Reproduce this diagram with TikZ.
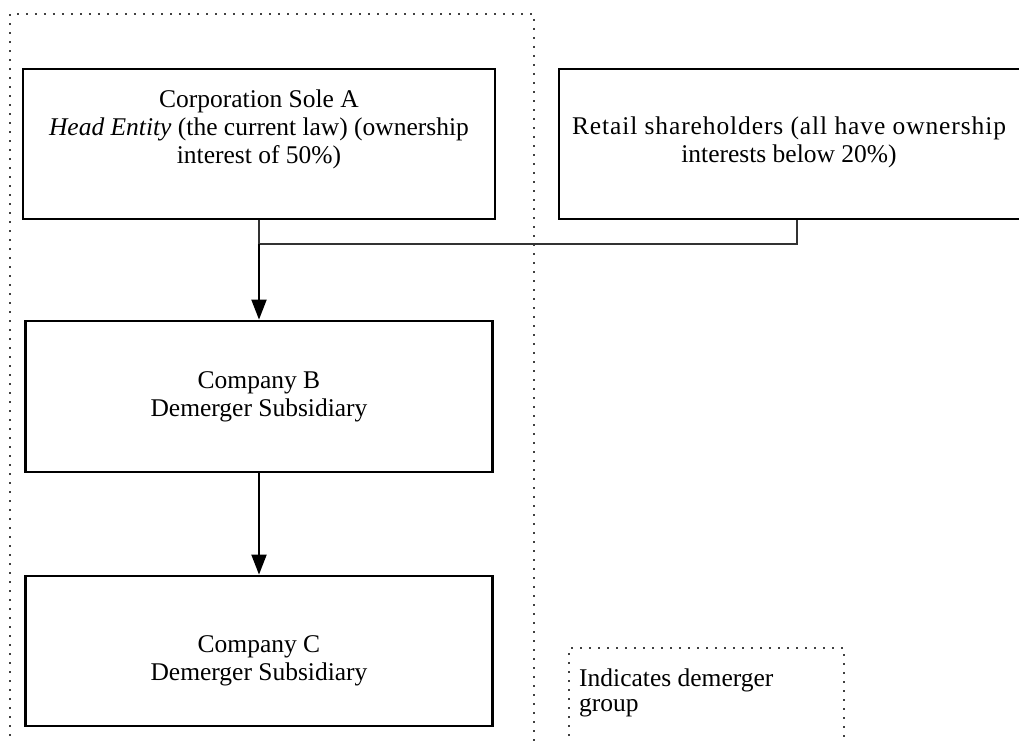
\documentclass[tikz,border=0pt]{standalone}
\usepackage{fontspec}
\setmainfont{Liberation Serif}
\usetikzlibrary{arrows.meta}
\begin{document}
\begin{tikzpicture}[x=1pt,y=-1pt,
  entity/.style={draw=black, line width=2.8pt, rectangle, minimum height=150pt, inner sep=0pt},
  txt/.style={font=\fontsize{25.5}{28}\selectfont, align=center, inner sep=0pt},
  ltxt/.style={font=\fontsize{25.5}{24.5}\selectfont, align=left, inner sep=0pt},
  dotline/.style={draw=black!75, line width=1.7pt, dash pattern=on 1.7pt off 7.3pt},
  thinconn/.style={draw=black!80, line width=1.3pt},
  arrconn/.style={draw=black, line width=2pt, -{Triangle[length=20pt,width=15pt]}}
]
\useasboundingbox (0,0) rectangle (1019,742);
% demerger group outline
\draw[dotline] (10,790) -- (10,14) -- (534,14) -- (534,790);
% legend outline
\draw[dotline] (569,790) -- (569,648) -- (844,648) -- (844,790);
\node[ltxt, anchor=base west] (legend) at (579,711) {Indicates demerger\\group};

% entities
\node[entity, minimum width=472pt] (A) at (259,144) {};
\node[txt] (Atext) at (259,129) {Corporation Sole A\\\textit{Head Entity} (the current law) (ownership\\interest of 50\%)};
\node[entity, minimum width=462pt] (R) at (790,144) {};
\node[txt] (Rtext) at (789,142) {{\addfontfeature{LetterSpace=3.5}Retail shareholders (all have ownership}\\interests below 20\%)};
\node[entity, minimum width=467pt, minimum height=151pt] (B) at (259,396.5) {};
\node[txt] (Btext) at (259,397) {Company B\\Demerger Subsidiary};
\node[entity, minimum width=467pt] (C) at (259,651) {};
\node[txt] (Ctext) at (259,661) {Company C\\Demerger Subsidiary};

% connectors
\coordinate (J) at (259,244);
\draw[thinconn] (A.south) -- (J) -| ([xshift=7pt]R.south);
\draw[arrconn] (J) -- (B.north);
\draw[arrconn] (B.south) -- (C.north);
\end{tikzpicture}
\end{document}
